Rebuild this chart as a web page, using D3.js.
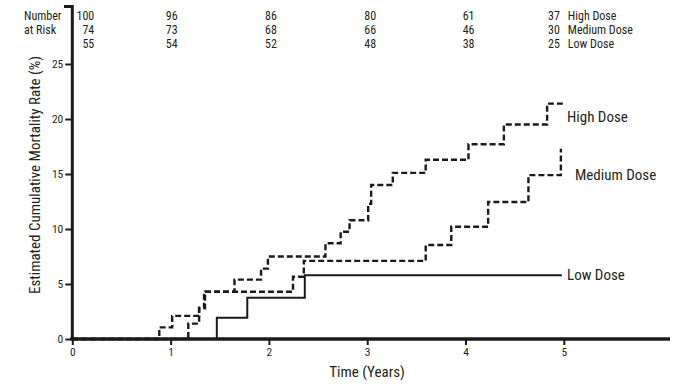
<!DOCTYPE html>
<html>
<head>
<meta charset="utf-8">
<script src="https://cdn.jsdelivr.net/npm/d3@7"></script>
<style>
  body { margin: 0; background: #fff; }
  text { font-family: "Liberation Sans Narrow", "Arial Narrow", "Roboto Condensed", sans-serif; fill: #231f20; }
</style>
</head>
<body>
<svg id="chart" width="675" height="391"></svg>
<script>
// Cumulative mortality step curves
/////////////////////////////////

// Data
var groupNames = ['High Dose', 'Medium Dose', 'Low Dose'];

// [time in years, cumulative rate %] at each step
var highDose = [[0, 0], [0.885, 1.06], [1.016, 2.1], [1.29, 2.85], [1.34, 4.3], [1.65, 5.4], [1.92, 6.4],
    [1.99, 7.5], [2.575, 8.7], [2.73, 9.75], [2.82, 10.8], [3.01, 12.3], [3.04, 14.0], [3.26, 15.1],
    [3.595, 16.3], [4.03, 17.7], [4.39, 19.5], [4.83, 21.4], [4.99, 21.4]];
var mediumDose = [[0, 0], [1.18, 1.4], [1.29, 2.8], [1.35, 4.3], [2.245, 5.66], [2.355, 7.1],
    [3.595, 8.55], [3.855, 10.2], [4.23, 12.45], [4.64, 14.9], [4.97, 17.3]];
var lowDose = [[0, 0], [1.47, 1.94], [1.78, 3.75], [2.365, 5.8], [4.98, 5.8]];

var riskTimes = [0, 1, 2, 3, 4, 5];
var highRisk = [100, 96, 86, 80, 61, 37];
var mediumRisk = [74, 73, 68, 66, 46, 30];
var lowRisk = [55, 54, 52, 48, 38, 25];

var xTicks = [0, 1, 2, 3, 4, 5];
var yTicks = [0, 5, 10, 15, 20, 25];

// Layout
var svg = d3.select('#chart');
var x = d3.scaleLinear().domain([0, 6.08]).range([72.3, 670]);
var y = d3.scaleLinear().domain([0, 25]).range([339, 64]);
var ink = '#1a1a1a';

// y axis
var yAxis = svg.append('g')
    .attr('transform', 'translate(' + x(0) + ',0)')
    .call(d3.axisLeft(y).tickValues(yTicks).tickFormat(d3.format('d')).tickSize(7).tickSizeOuter(0).tickPadding(2));
yAxis.select('.domain').remove();
yAxis.selectAll('line').attr('stroke', ink).attr('stroke-width', 2);
yAxis.selectAll('text').attr('font-size', 11.5).attr('font-family', null).attr('fill', '#231f20');

// x axis
var xAxis = svg.append('g')
    .attr('transform', 'translate(0,' + y(0) + ')')
    .call(d3.axisBottom(x).tickValues(xTicks).tickFormat(d3.format('d')).tickSize(6).tickSizeOuter(0).tickPadding(3));
xAxis.select('.domain').remove();
xAxis.selectAll('line').attr('stroke', ink).attr('stroke-width', 2);
xAxis.selectAll('text').attr('font-size', 11.5).attr('font-family', null).attr('fill', '#231f20');

// curves
var line = d3.line()
    .x(function (d) { return x(d[0]); })
    .y(function (d) { return y(d[1]); })
    .curve(d3.curveStepAfter);

var series = [
    { name: groupNames[0], values: highDose, dash: '6,3', width: 2.4 },
    { name: groupNames[1], values: mediumDose, dash: '6,3', width: 2.4 },
    { name: groupNames[2], values: lowDose, dash: null, width: 2 }
];

svg.selectAll('.curve')
    .data(series)
    .enter().append('path')
    .attr('class', 'curve')
    .attr('d', function (d) { return line(d.values); })
    .attr('fill', 'none')
    .attr('stroke', ink)
    .attr('stroke-width', function (d) { return d.width; })
    .attr('stroke-dasharray', function (d) { return d.dash; });

// axis lines on top
svg.append('line')
    .attr('x1', x(0) - 2).attr('x2', 670)
    .attr('y1', y(0)).attr('y2', y(0))
    .attr('stroke', ink).attr('stroke-width', 3.5);
svg.append('path')
    .attr('d', 'M64,6.5H' + x(0) + 'V' + (y(0) + 1))
    .attr('fill', 'none')
    .attr('stroke', ink).attr('stroke-width', 3);

// curve labels
var labelPos = [[567, 122], [575, 180], [567, 280]];
svg.selectAll('.clabel')
    .data(series)
    .enter().append('text')
    .attr('class', 'clabel')
    .attr('x', function (d, i) { return labelPos[i][0]; })
    .attr('y', function (d, i) { return labelPos[i][1]; })
    .attr('font-size', 15)
    .text(function (d) { return d.name; });

// axis titles
svg.append('text')
    .attr('x', 367).attr('y', 377)
    .attr('text-anchor', 'middle')
    .attr('font-size', 15)
    .text('Time (Years)');
svg.append('text')
    .attr('transform', 'translate(40,175) rotate(-90)')
    .attr('text-anchor', 'middle')
    .attr('font-size', 15)
    .text('Estimated Cumulative Mortality Rate (%)');

// numbers at risk
svg.append('text').attr('x', 24).attr('y', 20).attr('font-size', 12).text('Number');
svg.append('text').attr('x', 24).attr('y', 34).attr('font-size', 12).text('at Risk');

var riskRows = [highRisk, mediumRisk, lowRisk];
var nudge = [22, 7, 8, 9, 9, -4];
riskRows.forEach(function (row, r) {
    svg.selectAll('.risk' + r)
        .data(row)
        .enter().append('text')
        .attr('class', 'risk' + r)
        .attr('x', function (d, i) { return x(riskTimes[i]) + nudge[i]; })
        .attr('y', 20 + r * 14)
        .attr('text-anchor', 'end')
        .attr('font-size', 12)
        .text(function (d) { return d; });
    svg.append('text')
        .attr('x', x(riskTimes[riskTimes.length - 1]) + 4)
        .attr('y', 20 + r * 14)
        .attr('font-size', 12)
        .text(groupNames[r]);
});
</script>
</body>
</html>
